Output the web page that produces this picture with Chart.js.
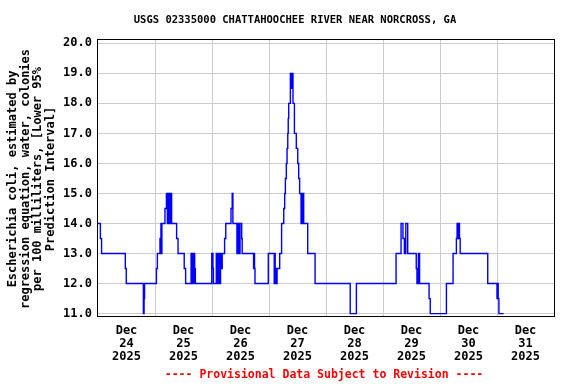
<!DOCTYPE html>
<html>
<head>
<meta charset="utf-8">
<script src="https://cdn.jsdelivr.net/npm/chart.js@4"></script>
<style>
  html, body { margin: 0; padding: 0; background: #fff; }
</style>
</head>
<body>
<canvas id="chart" width="576" height="384"></canvas>
<script>
// hours after Dec 24 2025 00:00 where the value changes, and the new value
const hours = [0, 1.0, 1.5, 11.5, 11.9, 19.1, 19.4, 19.6, 24.6, 25.0, 26.1, 26.5, 26.7, 26.9,
  28.2, 28.8, 29.2, 29.5, 29.7, 29.9, 30.2, 30.4, 31.0, 33.1, 33.7, 36.3, 36.9,
  39.2, 39.6, 39.9, 40.2, 40.4, 40.7, 41.0, 47.9, 48.4, 48.6, 49.8, 50.1, 50.4, 50.7,
  51.0, 51.3, 51.6, 52.0, 52.3, 53.3, 53.8, 56.0, 56.5, 56.8, 58.5, 58.7, 58.9, 59.2,
  59.5, 59.8, 60.5, 60.7, 65.5, 65.7, 65.9, 66.1, 71.7, 74.2, 74.4, 74.6, 74.9, 75.1,
  75.4, 76.5, 77.3, 78.2, 78.6, 78.9, 79.3, 79.6, 79.9, 80.1, 80.3, 81.0, 81.4, 81.6,
  82.1, 82.7, 83.5, 84.1, 84.5, 84.9, 85.5, 85.9, 86.2, 86.4, 86.6, 88.3, 91.4,
  106.2, 108.8, 125.5, 127.6, 128.4, 129.0, 129.6, 130.4, 134.0, 134.3, 134.9, 135.4,
  139.4, 139.9, 146.7, 149.5, 150.9, 151.2, 151.6, 151.8, 152.2, 152.5, 164.1,
  168.0, 168.3, 168.5, 168.8, 170.8]
const ecoli = [14, 13.5, 13, 12.5, 12, 11, 11.5, 12, 12.5, 13, 13.5, 14, 13, 14,
  14.5, 15, 14, 15, 14, 15, 14, 15, 14, 13.5, 13, 12.5, 12,
  13, 12, 13, 12, 13, 12.5, 12, 13, 12.5, 12, 13, 12, 13, 12,
  13, 12, 13, 12.5, 13, 13.5, 14, 14.5, 15, 14, 13, 14, 13, 14,
  13, 14, 13.5, 13, 12.5, 13, 12.5, 12, 13, 12, 13, 12, 12.5, 12,
  12.5, 13, 14, 14.5, 15, 15.5, 16, 16.5, 17, 17.5, 18, 19, 18.5, 19,
  18, 17, 16.5, 16, 15.5, 15, 14, 15, 14, 15, 14, 13, 12,
  11, 12, 13, 14, 13.5, 13, 14, 13, 12.5, 12, 13, 12,
  11.5, 11, 12, 13, 13.5, 14, 13.5, 14, 13.5, 13, 12,
  11.5, 12, 11.5, 11, 11]

const dayLabels = ['24', '25', '26', '27', '28', '29', '30', '31']
const monthLabel = 'Dec'
const yearLabel = '2025'
const yTicks = [11, 12, 13, 14, 15, 16, 17, 18, 19, 20]

const titleText = 'USGS 02335000 CHATTAHOOCHEE RIVER NEAR NORCROSS, GA'
const yTitle = ['Escherichia coli, estimated by', 'regression equation, water, colonies',
  'per 100 milliliters, [Lower 95%', 'Prediction Interval]']
const footerText = '---- Provisional Data Subject to Revision ----'

const mono = '"DejaVu Sans Mono", "Liberation Mono", monospace'

const textPlugin = {
  id: 'texts',
  afterDraw(chart) {
    const ctx = chart.ctx
    const a = chart.chartArea
    ctx.save()
    ctx.strokeStyle = '#000'
    ctx.lineWidth = 1
    ctx.strokeRect(a.left - 0.5, a.top - 0.5, a.right - a.left + 1, a.bottom - a.top + 1)

    ctx.fillStyle = '#000'
    ctx.textAlign = 'center'
    ctx.textBaseline = 'middle'
    ctx.font = 'bold 10.5px ' + mono
    ctx.fillText(titleText, 295, 20)

    ctx.fillStyle = '#ff0000'
    ctx.font = 'bold 11.5px ' + mono
    ctx.fillText(footerText, 324, 375)

    ctx.fillStyle = '#000'
    ctx.font = 'bold 12px ' + mono
    ctx.translate(0, 179)
    ctx.rotate(-Math.PI / 2)
    const xs = [13, 25.5, 38, 50.5]
    yTitle.forEach((line, i) => ctx.fillText(line, 0, xs[i]))
    ctx.restore()
  }
}

new Chart(document.getElementById('chart'), {
  type: 'line',
  data: {
    datasets: [{
      data: hours.map((h, i) => ({ x: h, y: ecoli[i] })),
      borderColor: '#0000ff',
      borderWidth: 1.4,
      pointRadius: 0,
      stepped: true,
      fill: false
    }]
  },
  options: {
    responsive: false,
    animation: false,
    layout: { padding: { left: 0, top: 40, right: 22, bottom: 0 } },
    plugins: { legend: { display: false }, title: { display: false }, tooltip: { enabled: false } },
    scales: {
      x: {
        type: 'linear',
        min: 0,
        max: 192,
        afterFit: s => { s.height = 68 },
        border: { display: false },
        grid: {
          drawTicks: false,
          color: c => (c.tick && c.tick.value % 24 === 0 && c.tick.value > 0 && c.tick.value < 192) ? '#cccccc' : 'transparent'
        },
        ticks: {
          stepSize: 12,
          autoSkip: false,
          maxRotation: 0,
          padding: 8,
          color: '#000',
          font: { family: mono, size: 12, weight: 'bold', lineHeight: '13px' },
          callback: v => v % 24 === 12 ? [monthLabel, dayLabels[(v - 12) / 24], yearLabel] : ''
        }
      },
      y: {
        min: 10.92,
        max: 20.11,
        afterFit: s => { s.width = 98 },
        afterBuildTicks: s => { s.ticks = yTicks.map(v => ({ value: v })) },
        border: { display: false },
        grid: { drawTicks: false, color: '#cccccc' },
        ticks: {
          padding: 6,
          color: '#000',
          font: { family: mono, size: 12, weight: 'bold' },
          callback: v => v.toFixed(1)
        }
      }
    }
  },
  plugins: [textPlugin]
})
</script>
</body>
</html>
